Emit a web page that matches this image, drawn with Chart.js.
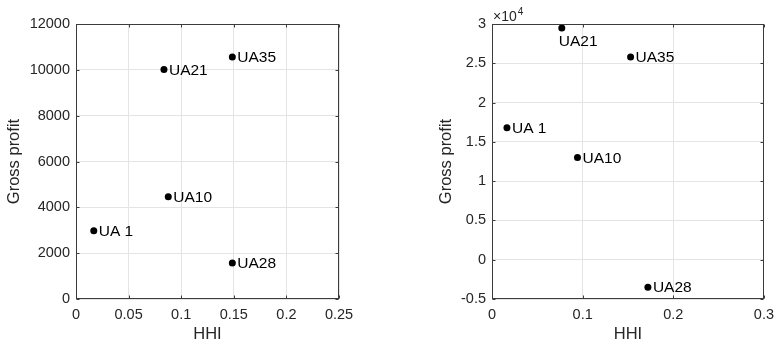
<!DOCTYPE html>
<html>
<head>
<meta charset="utf-8">
<script src="https://cdn.jsdelivr.net/npm/chart.js@4/dist/chart.umd.min.js"></script>
<style>
  html, body { margin: 0; padding: 0; background: #fff; }
  #left  { position: absolute; left: 0;     top: 0; width: 390px; height: 348px; }
  #right { position: absolute; left: 390px; top: 0; width: 391px; height: 348px; }
</style>
</head>
<body>
<div id="left"><canvas id="chartLeft"></canvas></div>
<div id="right"><canvas id="chartRight"></canvas></div>
<script>
// data
const names = ['UA 1', 'UA10', 'UA21', 'UA28', 'UA35'];

const leftHHI    = [0.0169, 0.0877, 0.0836, 0.1486, 0.1486];
const leftProfit = [2980, 4460, 10020, 1570, 10560];
const leftXTicks = [0, 0.05, 0.1, 0.15, 0.2, 0.25];
const leftYTicks = [0, 2000, 4000, 6000, 8000, 10000, 12000];

const rightHHI    = [0.0165, 0.0943, 0.0770, 0.1720, 0.1529];
const rightProfit = [16800, 13020, 29490, -3490, 25790];
const rightXTicks = [0, 0.1, 0.2, 0.3];
const rightYTicks = [-5000, 0, 5000, 10000, 15000, 20000, 25000, 30000];

const FONT = '"Liberation Sans", Arial, Helvetica, sans-serif';
const INK = '#262626';

function toPoints(xs, ys) {
  return xs.map((x, i) => ({ x: x, y: ys[i] }));
}

// matlab look: full box, inward ticks, text labels next to the dots, x10^4 note
const matlabAxes = {
  id: 'matlabAxes',
  afterDatasetsDraw(chart, args, opts) {
    const ctx = chart.ctx;
    const a = chart.chartArea;
    const sx = chart.scales.x, sy = chart.scales.y;
    ctx.save();

    // point labels
    ctx.font = '15.5px ' + FONT;
    ctx.fillStyle = '#000';
    ctx.textAlign = 'left';
    ctx.textBaseline = 'middle';
    chart.getDatasetMeta(0).data.forEach((pt, i) => {
      if ((opts.below || []).includes(i)) {
        ctx.fillText(names[i], pt.x - 3, pt.y + 14);
      } else {
        ctx.fillText(names[i], pt.x + 5, pt.y + 1);
      }
    });

    // box
    const l = Math.round(a.left) + 0.5, r = Math.round(a.right) - 0.5;
    const t = Math.round(a.top) + 0.5, b = Math.round(a.bottom) - 0.5;
    ctx.strokeStyle = '#3c3c3c';
    ctx.lineWidth = 1;
    ctx.strokeRect(l, t, r - l, b - t);

    // inward tick marks
    const len = 3;
    ctx.beginPath();
    sx.ticks.forEach(tk => {
      const px = Math.round(sx.getPixelForValue(tk.value)) + 0.5;
      ctx.moveTo(px, b); ctx.lineTo(px, b - len);
      ctx.moveTo(px, t); ctx.lineTo(px, t + len);
    });
    sy.ticks.forEach(tk => {
      const py = Math.round(sy.getPixelForValue(tk.value)) + 0.5;
      ctx.moveTo(l, py); ctx.lineTo(l + len, py);
      ctx.moveTo(r, py); ctx.lineTo(r - len, py);
    });
    ctx.stroke();

    if (opts.exponent) {
      ctx.fillStyle = INK;
      ctx.textAlign = 'left';
      ctx.textBaseline = 'alphabetic';
      ctx.font = '14px ' + FONT;
      ctx.fillText('\u00d710', a.left + 1, a.top - 3);
      const w = ctx.measureText('\u00d710').width;
      ctx.font = '10px ' + FONT;
      ctx.fillText(String(opts.exponent), a.left + 1 + w + 1, a.top - 9);
    }
    ctx.restore();
  }
};

function makeChart(canvasId, xs, ys, xTicks, yTicks, fmtX, fmtY, cfg) {
  return new Chart(document.getElementById(canvasId), {
    type: 'scatter',
    data: {
      datasets: [{
        data: toPoints(xs, ys),
        backgroundColor: '#000',
        borderWidth: 0,
        pointRadius: 3.5,
        pointHoverRadius: 3.5,
        clip: false
      }]
    },
    options: {
      responsive: true,
      maintainAspectRatio: false,
      animation: false,
      events: [],
      layout: { padding: { left: 0, right: cfg.padRight, top: 24, bottom: 0 } },
      plugins: {
        legend: { display: false },
        tooltip: { enabled: false },
        matlabAxes: { below: cfg.below, exponent: cfg.exponent }
      },
      scales: {
        x: {
          type: 'linear',
          min: xTicks[0],
          max: xTicks[xTicks.length - 1],
          afterBuildTicks: s => { s.ticks = xTicks.map(v => ({ value: v })); },
          afterFit: s => { s.height = 49; },
          grid: { color: '#e4e4e4', drawTicks: false, tickLength: 0 },
          border: { display: false },
          ticks: {
            padding: 7,
            color: INK,
            font: { family: FONT, size: 14.5 },
            maxRotation: 0,
            callback: fmtX
          },
          title: {
            display: true,
            text: 'HHI',
            color: INK,
            font: { family: FONT, size: 16.5 },
            padding: { top: 0, bottom: 4 }
          }
        },
        y: {
          type: 'linear',
          min: yTicks[0],
          max: yTicks[yTicks.length - 1],
          afterBuildTicks: s => { s.ticks = yTicks.map(v => ({ value: v })); },
          afterFit: s => { s.width = cfg.yWidth; },
          grid: { color: '#e4e4e4', drawTicks: false, tickLength: 0 },
          border: { display: false },
          ticks: {
            padding: 6,
            color: INK,
            font: { family: FONT, size: 14.5 },
            callback: fmtY
          },
          title: {
            display: true,
            text: 'Gross profit',
            color: INK,
            font: { family: FONT, size: 16.5 },
            padding: { top: cfg.titlePad, bottom: 0 }
          }
        }
      }
    },
    plugins: [matlabAxes]
  });
}

makeChart('chartLeft', leftHHI, leftProfit, leftXTicks, leftYTicks,
  v => String(+v.toFixed(2)),
  v => String(v),
  { padRight: 51, yWidth: 76, titlePad: 5, below: [], exponent: null });

makeChart('chartRight', rightHHI, rightProfit, rightXTicks, rightYTicks,
  v => String(+v.toFixed(1)),
  v => String(+(v / 1e4).toFixed(1)),
  { padRight: 11, yWidth: 102, titlePad: 47, below: [2], exponent: 4 });
</script>
</body>
</html>
